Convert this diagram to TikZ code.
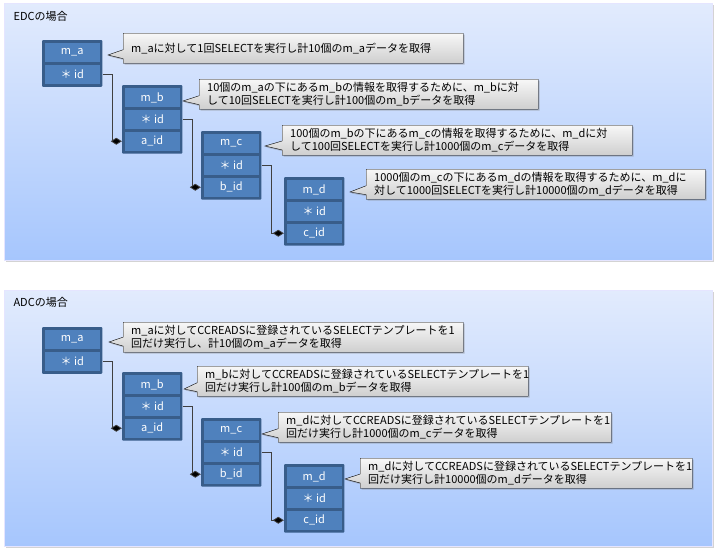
\documentclass[tikz,border=0pt]{standalone}
\usepackage{fontspec}
\setmainfont{Noto Sans CJK JP}
\usetikzlibrary{positioning, fit, backgrounds, shapes.callouts, shadows, arrows.meta}
\definecolor{cellblue}{RGB}{79,129,189}
\definecolor{tabline}{RGB}{56,93,138}
\definecolor{paneltop}{RGB}{226,235,253}
\definecolor{panelbot}{RGB}{166,198,253}

\begin{document}
\begin{tikzpicture}[
    x=1pt, y=-1pt,
    node distance=2pt,
    panel/.style={draw=blue!10, top color=paneltop, bottom color=panelbot, drop shadow={shadow xshift=1.5pt, shadow yshift=-1.5pt, opacity=0.35}},
    paneltitle/.style={anchor=west, font=\fontsize{11}{13}\selectfont},
    cellbox/.style={fill=cellblue, text=white, minimum width=55pt, minimum height=19.5pt, inner sep=0pt, anchor=north west, font=\fontsize{11}{13}\selectfont},
    tabbox/.style={fill=tabline, rounded corners=1pt, inner sep=2.5pt},
    notebox/.style={rectangle callout, draw, thin, top color=gray!6, bottom color=gray!38, callout pointer width=9pt, anchor=north west, align=left, minimum height=30pt, inner xsep=8pt, inner ysep=2pt, font=\fontsize{11}{13}\selectfont, drop shadow={shadow xshift=1.5pt, shadow yshift=-1.5pt, opacity=0.4}},
    linkline/.style={draw=black!75, line width=0.8pt, -{Diamond[length=11pt, width=7pt, fill=black]}},
]
\useasboundingbox (0,0) rectangle (717,554);

% Panels
\begin{scope}[on background layer]
\path[panel] (4,3) rectangle (712,260);
\path[panel] (4,290) rectangle (712,546);
\end{scope}
\node[paneltitle] (edc-title) at (10,16) {EDCの場合};
\node[paneltitle] (adc-title) at (10,302) {ADCの場合};

% ===== EDC =====
% Tables
\node[cellbox] (edc-ma-name) at (44.5,42.5) {m\_a};
\node[cellbox, below=of edc-ma-name] (edc-ma-id) {＊ id};

\node[cellbox] (edc-mb-name) at (124.5,87.5) {m\_b};
\node[cellbox, below=of edc-mb-name] (edc-mb-id) {＊ id};
\node[cellbox, below=of edc-mb-id] (edc-mb-aid) {a\_id};

\node[cellbox] (edc-mc-name) at (203.5,133.5) {m\_c};
\node[cellbox, below=of edc-mc-name] (edc-mc-id) {＊ id};
\node[cellbox, below=of edc-mc-id] (edc-mc-bid) {b\_id};

\node[cellbox] (edc-md-name) at (286.5,179.5) {m\_d};
\node[cellbox, below=of edc-md-name] (edc-md-id) {＊ id};
\node[cellbox, below=of edc-md-id] (edc-md-cid) {c\_id};

\begin{scope}[on background layer]
\node[tabbox, fit=(edc-ma-name)(edc-ma-id)] (edc-ma) {};
\node[tabbox, fit=(edc-mb-name)(edc-mb-aid)] (edc-mb) {};
\node[tabbox, fit=(edc-mc-name)(edc-mc-bid)] (edc-mc) {};
\node[tabbox, fit=(edc-md-name)(edc-md-cid)] (edc-md) {};
\end{scope}

% Callouts
\node[notebox, text width=324pt, callout absolute pointer={(108,55)}] (edc-note-a) at (123,33) {m\_aに対して1回SELECTを実行し計10個のm\_aデータを取得};
\node[notebox, text width=323pt, callout absolute pointer={(183,101)}] (edc-note-b) at (199,79) {10個のm\_aの下にあるm\_bの情報を取得するために、m\_bに対\\して10回SELECTを実行し計100個のm\_bデータを取得};
\node[notebox, text width=334pt, callout absolute pointer={(265,146)}] (edc-note-c) at (282,125) {100個のm\_bの下にあるm\_cの情報を取得するために、m\_dに対\\して100回SELECTを実行し計1000個のm\_cデータを取得};
\node[notebox, text width=323pt, callout absolute pointer={(350,192)}] (edc-note-d) at (366,169) {1000個のm\_cの下にあるm\_dの情報を取得するために、m\_dに\\対して1000回SELECTを実行し計10000個のm\_dデータを取得};

% Links
\draw[linkline] (edc-ma.east |- edc-ma-id.center) -- ++(10,0) |- (edc-mb.west |- edc-mb-aid.center);
\draw[linkline] (edc-mb.east |- edc-mb-id.center) -- ++(10,0) |- (edc-mc.west |- edc-mc-bid.center);
\draw[linkline] (edc-mc.east |- edc-mc-id.center) -- ++(10,0) |- (edc-md.west |- edc-md-cid.center);

% ===== ADC =====
% Tables
\node[cellbox] (adc-ma-name) at (44.5,329.5) {m\_a};
\node[cellbox, below=of adc-ma-name] (adc-ma-id) {＊ id};

\node[cellbox] (adc-mb-name) at (124.5,374.5) {m\_b};
\node[cellbox, below=of adc-mb-name] (adc-mb-id) {＊ id};
\node[cellbox, below=of adc-mb-id] (adc-mb-aid) {a\_id};

\node[cellbox] (adc-mc-name) at (203.5,420.5) {m\_c};
\node[cellbox, below=of adc-mc-name] (adc-mc-id) {＊ id};
\node[cellbox, below=of adc-mc-id] (adc-mc-bid) {b\_id};

\node[cellbox] (adc-md-name) at (286.5,466.5) {m\_d};
\node[cellbox, below=of adc-md-name] (adc-md-id) {＊ id};
\node[cellbox, below=of adc-md-id] (adc-md-cid) {c\_id};

\begin{scope}[on background layer]
\node[tabbox, fit=(adc-ma-name)(adc-ma-id)] (adc-ma) {};
\node[tabbox, fit=(adc-mb-name)(adc-mb-aid)] (adc-mb) {};
\node[tabbox, fit=(adc-mc-name)(adc-mc-bid)] (adc-mc) {};
\node[tabbox, fit=(adc-md-name)(adc-md-cid)] (adc-md) {};
\end{scope}

% Callouts
\node[notebox, text width=324pt, callout absolute pointer={(109,342)}] (adc-note-a) at (123,322) {m\_aに対してCCREADSに登録されているSELECTテンプレートを1\\回だけ実行し、計10個のm\_aデータを取得};
\node[notebox, text width=315pt, callout absolute pointer={(184,389)}] (adc-note-b) at (197,366) {m\_bに対してCCREADSに登録されているSELECTテンプレートを1\\回だけ実行し計100個のm\_bデータを取得};
\node[notebox, text width=317pt, callout absolute pointer={(262,434)}] (adc-note-c) at (278,412) {m\_dに対してCCREADSに登録されているSELECTテンプレートを1\\回だけ実行し計1000個のm\_cデータを取得};
\node[notebox, text width=316pt, callout absolute pointer={(345,479)}] (adc-note-d) at (360,458) {m\_dに対してCCREADSに登録されているSELECTテンプレートを1\\回だけ実行し計10000個のm\_dデータを取得};

% Links
\draw[linkline] (adc-ma.east |- adc-ma-id.center) -- ++(10,0) |- (adc-mb.west |- adc-mb-aid.center);
\draw[linkline] (adc-mb.east |- adc-mb-id.center) -- ++(10,0) |- (adc-mc.west |- adc-mc-bid.center);
\draw[linkline] (adc-mc.east |- adc-mc-id.center) -- ++(10,0) |- (adc-md.west |- adc-md-cid.center);

\end{tikzpicture}
\end{document}
